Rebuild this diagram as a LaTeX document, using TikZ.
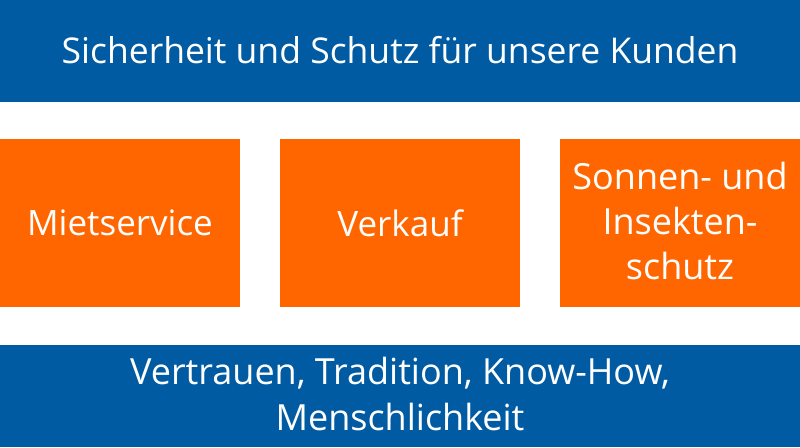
\documentclass[tikz,border=0pt]{standalone}
\usepackage{fontspec}
\setmainfont{Open Sans}
\definecolor{barblue}{RGB}{0,91,163}
\definecolor{boxorange}{RGB}{255,102,0}
\begin{document}
\begin{tikzpicture}[x=1pt,y=1pt,
  bar/.style={fill=barblue,draw=none,inner sep=0pt,outer sep=0pt},
  obox/.style={fill=boxorange,draw=none,inner sep=0pt,outer sep=0pt},
  lbl/.style={text=white,align=center,font=\fontsize{36}{45}\selectfont}]
\useasboundingbox (0,0) rectangle (800,447);
\fill[white] (0,0) rectangle (800,447);
\node[bar,minimum width=800pt,minimum height=102pt,anchor=north west] (top) at (0,447) {};
\node[lbl,font=\fontsize{35.5}{45}\selectfont] (toptext) at ([yshift=1pt]top.center) {Sicherheit und Schutz für unsere Kunden};
\node[obox,minimum width=240pt,minimum height=168pt,anchor=south west] (b1) at (0,140) {};
\node[obox,minimum width=240pt,minimum height=168pt,anchor=south west] (b2) at (280,140) {};
\node[obox,minimum width=240pt,minimum height=168pt,anchor=south west] (b3) at (560,140) {};
\node[lbl,font=\fontsize{35}{45}\selectfont] (t1) at (b1.center) {Mietservice};
\node[lbl,font=\fontsize{35}{45}\selectfont] (t2) at (b2.center) {Verkauf};
\node[lbl] (t3) at ([yshift=2pt]b3.center) {Sonnen- und\\Insekten-\\schutz};
\node[bar,minimum width=800pt,minimum height=102pt,anchor=south west] (bot) at (0,0) {};
\node[lbl] (bottext) at ([yshift=2pt]bot.center) {Vertrauen, Tradition, Know-How,\\Menschlichkeit};
\end{tikzpicture}
\end{document}
